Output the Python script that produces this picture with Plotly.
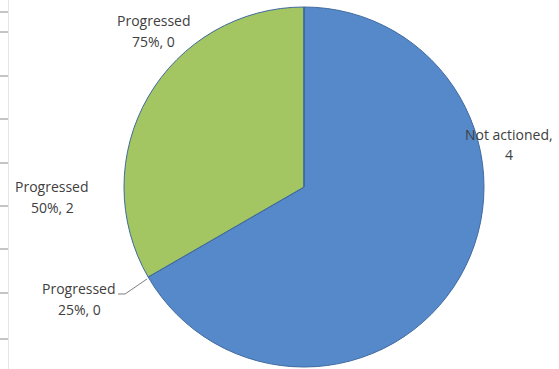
import plotly.graph_objects as go

categories = ["Not actioned", "Progressed 25%", "Progressed 50%", "Progressed 75%"]
values = [4, 0, 2, 0]
colors = ["#5589CA", "#4F81BD", "#A3C562", "#9BBB59"]

W, H = 559, 369
cx, cy, r = 304, 187, 180

fig = go.Figure()
fig.add_trace(go.Pie(
    labels=categories,
    values=values,
    sort=False,
    direction="clockwise",
    rotation=0,
    textinfo="none",
    hoverinfo="label+value",
    marker=dict(colors=colors, line=dict(color="#3F6A9E", width=1)),
    domain=dict(x=[(cx - r) / W, (cx + r) / W], y=[(H - cy - r) / H, (H - cy + r) / H]),
    showlegend=False,
))

# data label placement (pixel positions of label lines)
label_pos = {
    "Progressed 75%": [(154, 21), (154, 42)],
    "Not actioned": [(509, 134), (509, 155)],
    "Progressed 50%": [(52, 186), (52, 207)],
    "Progressed 25%": [(79, 288), (79, 309)],
}

def split_label(cat, val):
    if cat == "Not actioned":
        return ["Not actioned,", f"{val}"]
    word, pct = cat.split(" ")
    return [word, f"{pct}, {val}"]

annotations = []
for cat, val in zip(categories, values):
    lines = split_label(cat, val)
    for (px, py), txt in zip(label_pos[cat], lines):
        annotations.append(dict(
            x=px / W, y=1 - py / H, xref="paper", yref="paper",
            text=txt, showarrow=False, xanchor="center", yanchor="middle",
            font=dict(family="Open Sans", size=14, color="#404040"),
        ))

shapes = []
# leader line for Progressed 25%
shapes.append(dict(type="path", xref="paper", yref="paper",
                   path=f"M {118/W} {1-294/H} L {125/W} {1-294/H} L {147/W} {1-279/H}",
                   line=dict(color="#7F7F7F", width=1)))
# spreadsheet gridline remnants at left edge
for gy in [12, 32, 76, 119, 163, 206, 249, 293, 339]:
    shapes.append(dict(type="line", xref="paper", yref="paper",
                       x0=0, x1=8 / W, y0=1 - gy / H, y1=1 - gy / H,
                       line=dict(color="#8A8A8A", width=1)))
shapes.append(dict(type="line", xref="paper", yref="paper",
                   x0=8.5 / W, x1=8.5 / W, y0=0, y1=1,
                   line=dict(color="#E6E6E6", width=1)))

fig.update_layout(
    width=W, height=H,
    margin=dict(l=0, r=0, t=0, b=0),
    paper_bgcolor="white",
    plot_bgcolor="white",
    annotations=annotations,
    shapes=shapes,
)

fig.write_html(
    "out.html",
    config={"displayModeBar": False},
    post_script="document.body.style.margin='0';document.body.style.overflow='hidden';",
)
